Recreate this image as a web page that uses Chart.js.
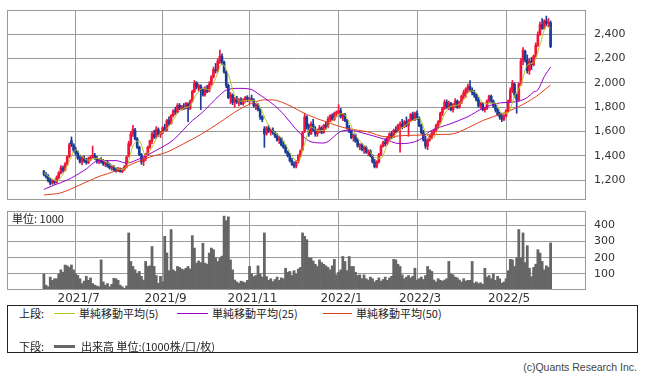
<!DOCTYPE html>
<html><head><meta charset="utf-8">
<script src="https://cdn.jsdelivr.net/npm/chart.js@4.4.1/dist/chart.umd.min.js"></script>
<style>
html,body{margin:0;padding:0;background:#fff;}
body{width:646px;height:377px;overflow:hidden;position:relative;}
canvas{position:absolute;left:0;}
#c1{top:0;}
#c2{top:205px;}
.t{position:absolute;font-family:"Noto Sans CJK JP",sans-serif;font-size:11px;line-height:13px;color:#222;white-space:nowrap;}
.ln{position:absolute;}
#legend{position:absolute;left:7px;top:305px;width:631px;height:48px;border:1px solid #222;box-sizing:border-box;}
#copy{position:absolute;right:9px;top:361px;font-family:"Liberation Sans",Arial,sans-serif;font-size:10.5px;line-height:13px;color:#444;}
</style></head>
<body>
<canvas id="c1" width="646" height="202"></canvas>
<canvas id="c2" width="646" height="100"></canvas>
<span class="t" style="left:12px;top:212px;">単位: 1000</span>
<div id="legend"></div>
<span class="t" style="left:19px;top:307px;">上段:</span>
<div class="ln" style="left:54px;top:313px;width:21px;height:1px;background:#b5c51a;"></div>
<span class="t" style="left:79px;top:307px;">単純移動平均(5)</span>
<div class="ln" style="left:177px;top:313px;width:31px;height:1px;background:#9900cc;"></div>
<span class="t" style="left:212px;top:307px;">単純移動平均(25)</span>
<div class="ln" style="left:323px;top:313px;width:29px;height:1px;background:#e0401a;"></div>
<span class="t" style="left:356px;top:307px;">単純移動平均(50)</span>
<span class="t" style="left:19px;top:340px;">下段:</span>
<div class="ln" style="left:54px;top:345px;width:21px;height:3px;background:#666;"></div>
<span class="t" style="left:81px;top:340px;">出来高 単位:(1000株/口/枚)</span>
<span id="copy">(c)Quants Research Inc.</span>
<script>
// ---- data ----
const monthLabels = ['2021/7','2021/9','2021/11','2022/1','2022/3','2022/5'];
const monthStartDay = [15,56,97,139,176,218];
const priceTicks = [1200,1400,1600,1800,2000,2200,2400];
const volumeTicks = [100,200,300,400];

const opens = [
1270,1250,1235,1200,1175,1195,1180,1220,1255,1300, 1280,1330,1395,1525,1490,1450,1420,1385,1350,1380,
1360,1345,1375,1395,1405,1380,1355,1365,1350,1330, 1345,1315,1300,1310,1285,1275,1290,1270,1290,1310,
1400,1500,1580,1610,1540,1470,1410,1350,1375,1410, 1470,1520,1575,1555,1615,1575,1590,1630,1610,1690,
1665,1730,1770,1760,1815,1790,1805,1790,1825,1790, 1850,1930,2000,1965,1975,1940,1905,1950,1935,1990,
2050,2110,2100,2180,2220,2170,2090,1980,1880,1900, 1840,1870,1845,1860,1830,1860,1880,1855,1870,1860,
1810,1820,1780,1720,1620,1580,1630,1600,1610,1590, 1560,1530,1545,1490,1470,1430,1400,1360,1330,1315,
1350,1400,1450,1600,1720,1640,1580,1660,1610,1580, 1600,1630,1590,1650,1640,1700,1730,1700,1750,1760,
1770,1720,1740,1690,1630,1600,1550,1570,1520,1480, 1490,1450,1470,1430,1440,1400,1350,1310,1350,1410,
1480,1510,1500,1550,1580,1555,1610,1600,1650,1660, 1640,1680,1650,1690,1740,1700,1750,1710,1650,1590,
1530,1480,1530,1560,1590,1610,1650,1680,1750,1790, 1840,1800,1830,1780,1820,1850,1800,1840,1890,1920,
1950,1970,1940,1920,1900,1860,1810,1830,1780,1790, 1850,1890,1850,1810,1780,1740,1720,1700,1730,1770,
1850,1940,1990,1900,1860,1990,2180,2260,2190,2100, 2180,2150,2220,2310,2400,2480,2450,2510,2490,2495];
const highs = [
1280,1262,1245,1215,1205,1200,1235,1270,1320,1315, 1345,1400,1505,1555,1500,1470,1440,1400,1395,1400,
1380,1390,1400,1480,1420,1395,1380,1385,1370,1355, 1360,1340,1325,1320,1300,1305,1300,1290,1320,1400,
1520,1600,1650,1625,1550,1480,1420,1385,1420,1480, 1530,1600,1610,1640,1630,1600,1640,1660,1700,1720,
1740,1780,1800,1830,1830,1815,1830,1840,1835,1860, 1940,2020,2010,1990,1985,1960,1970,1980,2010,2060,
2130,2160,2200,2270,2240,2180,2100,1990,1920,1910, 1880,1890,1870,1880,1870,1890,1895,1880,1900,1870,
1830,1830,1790,1730,1640,1640,1650,1620,1630,1600, 1580,1560,1550,1520,1490,1440,1420,1380,1350,1360,
1410,1450,1600,1750,1730,1660,1680,1700,1640,1620, 1650,1640,1660,1680,1720,1740,1745,1760,1770,1820,
1790,1750,1750,1700,1650,1610,1580,1580,1540,1500, 1500,1480,1480,1450,1450,1410,1370,1360,1420,1490,
1520,1540,1560,1590,1600,1620,1640,1660,1680,1700, 1690,1720,1700,1750,1760,1760,1770,1720,1660,1610,
1560,1540,1570,1600,1620,1660,1690,1760,1800,1860, 1860,1850,1840,1830,1870,1860,1850,1900,1940,1960,
1990,2020,1960,1940,1910,1880,1840,1840,1800,1860, 1900,1900,1860,1830,1790,1760,1750,1740,1780,1860,
1960,2020,2000,1910,2000,2200,2290,2270,2230,2200, 2210,2230,2330,2420,2500,2530,2520,2550,2530,2510];
const lows = [
1235,1215,1185,1160,1165,1165,1175,1210,1250,1265, 1275,1320,1385,1475,1430,1405,1370,1340,1325,1345,
1330,1335,1360,1380,1370,1340,1335,1340,1320,1310, 1305,1290,1280,1275,1265,1270,1265,1260,1280,1300,
1390,1480,1560,1530,1460,1400,1330,1320,1360,1400, 1460,1500,1540,1545,1560,1550,1580,1600,1605,1650,
1660,1720,1740,1750,1780,1775,1780,1785,1680,1780, 1840,1920,1950,1930,1780,1890,1890,1920,1925,1980,
2040,2080,2090,2160,2150,2080,1960,1870,1830,1820, 1800,1830,1810,1820,1815,1840,1845,1830,1850,1800,
1780,1770,1700,1680,1470,1570,1590,1570,1575,1550, 1520,1500,1480,1460,1420,1390,1350,1320,1300,1300,
1340,1390,1440,1590,1620,1560,1575,1600,1560,1560, 1590,1580,1585,1620,1630,1680,1690,1690,1720,1740,
1710,1690,1680,1620,1590,1540,1520,1510,1470,1450, 1440,1420,1420,1400,1390,1340,1300,1300,1340,1400,
1470,1480,1490,1530,1540,1550,1590,1595,1430,1620, 1630,1640,1560,1680,1690,1690,1700,1640,1580,1520,
1460,1450,1520,1540,1570,1600,1630,1670,1730,1780, 1790,1780,1770,1760,1800,1790,1790,1830,1870,1880,
1920,1930,1900,1880,1850,1800,1790,1770,1760,1780, 1840,1840,1800,1760,1730,1700,1680,1690,1720,1760,
1840,1920,1880,1750,1850,1980,2150,2170,2080,2070, 2110,2140,2210,2300,2390,2440,2440,2470,2460,2290];
const closes = [
1250,1230,1200,1175,1190,1180,1220,1260,1300,1280, 1330,1390,1490,1495,1445,1420,1380,1350,1385,1360,
1345,1375,1390,1405,1380,1355,1370,1350,1335,1345, 1315,1300,1310,1285,1275,1295,1270,1285,1310,1390,
1500,1580,1620,1540,1470,1410,1350,1370,1410,1470, 1520,1580,1555,1620,1575,1590,1630,1610,1690,1665,
1730,1770,1760,1815,1790,1805,1790,1830,1790,1850, 1930,2000,1965,1975,1940,1900,1950,1930,1990,2050,
2110,2100,2180,2220,2170,2090,1980,1880,1900,1840, 1870,1845,1860,1830,1860,1880,1855,1870,1860,1810,
1820,1780,1720,1700,1580,1630,1600,1610,1590,1560, 1530,1545,1490,1470,1430,1400,1360,1330,1315,1350,
1400,1440,1590,1720,1640,1580,1660,1610,1580,1600, 1630,1590,1650,1640,1700,1730,1700,1750,1760,1770,
1720,1740,1690,1630,1600,1550,1570,1520,1480,1490, 1450,1470,1430,1440,1400,1350,1310,1350,1410,1480,
1510,1500,1550,1580,1555,1610,1600,1650,1660,1640, 1680,1650,1690,1740,1700,1750,1710,1650,1590,1530,
1480,1530,1560,1590,1610,1650,1680,1750,1790,1840, 1800,1830,1780,1820,1850,1800,1840,1890,1920,1950,
1970,1940,1920,1900,1860,1810,1830,1780,1790,1850, 1890,1850,1810,1780,1740,1720,1700,1730,1770,1850,
1940,2000,1900,1860,1990,2180,2270,2190,2100,2180, 2150,2220,2310,2400,2480,2450,2510,2490,2500,2300];
const volumes = [
100,30,20,80,60,70,70,100,125,110, 155,150,140,155,125,100,90,70,40,55,
85,60,75,40,30,25,20,187,50,30, 40,20,35,73,70,60,30,20,10,25,
354,177,146,125,104,115,85,62,177,146, 150,270,146,90,42,85,52,333,230,120,
375,125,115,146,140,130,125,135,146,130, 337,260,167,180,170,290,167,160,229,260,
250,200,177,200,210,458,430,454,187,125, 62,50,42,55,50,45,60,146,100,83,
90,150,100,80,354,83,60,70,52,65, 80,60,75,70,135,110,115,90,120,100,
130,140,354,333,312,200,198,180,160,146, 187,170,160,150,140,125,150,190,94,110,
125,208,177,120,208,146,146,110,90,94, 70,94,70,62,80,70,50,60,75,55,
65,80,60,75,85,190,187,160,146,94, 70,80,90,75,85,135,62,70,80,65,
90,146,125,115,62,50,70,60,55,62, 70,177,100,94,80,75,62,50,70,55,
60,60,177,42,50,40,45,35,135,80, 90,70,100,60,85,70,42,50,70,120,
190,187,146,200,375,200,354,170,275,135, 83,140,160,250,229,177,125,150,140,292];

const ma5Day = [0,3,6,9,12,15,18,21,24,27,30,33,36,39,42,45,48,51,54,57,60,63,66,69,72,75,78,81,84,87,90,93,96,99,102,105,108,111,114,117,120,123,126,129,132,135,138,141,144,147,150,153,156,159,162,165,168,171,174,177,180,183,186,189,192,195,198,201,204,207,210,213,216,219,222,225,228,231,234,237,239];
const ma5Val = [1260,1220,1193,1248,1358,1448,1396,1363,1379,1372,1343,1311,1287,1310,1480,1524,1402,1470,1570,1605,1665,1748,1792,1813,1907,1956,1942,2036,2156,2068,1894,1849,1857,1855,1798,1682,1602,1567,1493,1398,1351,1500,1638,1606,1610,1662,1728,1748,1676,1574,1502,1456,1386,1380,1490,1559,1615,1656,1692,1710,1592,1538,1618,1742,1808,1816,1860,1934,1918,1836,1828,1836,1750,1754,1892,1986,2146,2168,2312,2466,2450];
const ma25Day = [0,5,11,19,26,34,39,45,53,61,70,74,83,86,92,97,102,111,121,126,132,140,144,152,160,168,177,182,192,200,207,215,220,225,228,231,233,236,239];
const ma25Val = [1123,1160,1200,1280,1360,1360,1340,1375,1445,1530,1690,1745,1900,1940,1955,1950,1900,1780,1580,1515,1505,1600,1610,1580,1540,1500,1530,1600,1665,1722,1790,1835,1840,1855,1880,1925,1942,2051,2130];
const ma50Day = [0,8,17,26,34,42,50,58,66,74,83,92,100,104,108,115,124,133,143,152,162,168,177,184,192,200,207,215,224,232,239];
const ma50Val = [1077,1095,1160,1230,1275,1335,1390,1430,1500,1575,1675,1780,1845,1860,1860,1820,1740,1680,1625,1600,1555,1565,1570,1575,1578,1630,1690,1740,1805,1886,1983];

// ---- styles ----
const UP = '#f0143c', DOWN = '#1a3c96';
const GRID = '#9a9a9a';
const MA5C = '#b5c51a', MA25C = '#9900cc', MA50C = '#e0401a';
const X_MIN = -17.4, X_MAX = 255.7;
Chart.defaults.font.family = 'DejaVu Sans';

const candleColor = i => closes[i] >= opens[i] ? UP : DOWN;
const frame = {
  id: 'frame',
  afterDraw(chart) {
    const {ctx, chartArea: a} = chart;
    ctx.save();
    ctx.strokeStyle = GRID; ctx.lineWidth = 1;
    ctx.strokeRect(Math.round(a.left) + 0.5, Math.round(a.top) + 0.5,
                   Math.round(a.right - a.left) - 1, Math.round(a.bottom - a.top) - 1);
    ctx.restore();
  }
};
const monthGrid = s => { s.ticks = monthStartDay.map(v => ({value: v})); };
const fitY = s => { s.width = 60; s.paddingTop = 0; s.paddingBottom = 0; };

new Chart(document.getElementById('c1'), {
  type: 'bar',
  data: { datasets: [
    {type: 'line', data: ma5Day.map((d, k) => ({x: d, y: ma5Val[k]})), borderColor: MA5C, borderWidth: 1, pointRadius: 0, cubicInterpolationMode: 'monotone', order: 0},
    {type: 'line', data: ma25Day.map((d, k) => ({x: d, y: ma25Val[k]})), borderColor: MA25C, borderWidth: 1, pointRadius: 0, cubicInterpolationMode: 'monotone', order: 1},
    {type: 'line', data: ma50Day.map((d, k) => ({x: d, y: ma50Val[k]})), borderColor: MA50C, borderWidth: 1, pointRadius: 0, cubicInterpolationMode: 'monotone', order: 2},
    {type: 'bar', data: opens.map((o, i) => ({x: i, y: [o, closes[i]]})), backgroundColor: c => candleColor(c.dataIndex), barThickness: 2, minBarLength: 1, grouped: false, order: 3},
    {type: 'bar', data: lows.map((l, i) => ({x: i, y: [l, highs[i]]})), backgroundColor: c => candleColor(c.dataIndex), barThickness: 1, grouped: false, order: 4}
  ]},
  options: {
    responsive: false, animation: false, events: [],
    layout: {padding: {left: 7, top: 10, right: 0, bottom: 2}},
    plugins: {legend: {display: false}, tooltip: {enabled: false}},
    scales: {
      x: {type: 'linear', min: X_MIN, max: X_MAX, offset: false,
          afterBuildTicks: monthGrid, ticks: {display: false},
          grid: {color: GRID, drawTicks: false, offset: false}, border: {display: false},
          afterFit: s => { s.height = 0; s.paddingLeft = 0; s.paddingRight = 0; }},
      y: {type: 'linear', position: 'right', min: 1036, max: 2600, beginAtZero: false,
          afterBuildTicks: s => { s.ticks = priceTicks.map(v => ({value: v})); },
          ticks: {callback: v => v.toLocaleString('en-US'), font: {size: 11}, color: '#333', padding: 8},
          grid: {color: GRID, drawTicks: false}, border: {display: false},
          afterFit: fitY}
    }
  },
  plugins: [frame]
});

new Chart(document.getElementById('c2'), {
  type: 'bar',
  data: { datasets: [
    {data: volumes.map((v, i) => ({x: i, y: v})), backgroundColor: '#666666', barPercentage: 1, categoryPercentage: 1, borderWidth: 0}
  ]},
  options: {
    responsive: false, animation: false, events: [],
    layout: {padding: {left: 7, top: 6, right: 0, bottom: 0}},
    plugins: {legend: {display: false}, tooltip: {enabled: false}},
    scales: {
      x: {type: 'linear', min: X_MIN, max: X_MAX, offset: false,
          afterBuildTicks: monthGrid,
          ticks: {callback: v => monthLabels[monthStartDay.indexOf(v)] || '', font: {size: 12}, color: '#333', padding: 2, maxRotation: 0, autoSkip: false, labelOffset: 3},
          grid: {color: GRID, drawTicks: false, offset: false}, border: {display: false},
          afterFit: s => { s.height = 15; s.paddingLeft = 0; s.paddingRight = 0; }},
      y: {type: 'linear', position: 'right', min: 0, max: 490,
          afterBuildTicks: s => { s.ticks = volumeTicks.map(v => ({value: v})); },
          ticks: {font: {size: 11}, color: '#333', padding: 8},
          grid: {color: GRID, drawTicks: false}, border: {display: false},
          afterFit: fitY}
    }
  },
  plugins: [frame]
});
</script>
</body></html>
